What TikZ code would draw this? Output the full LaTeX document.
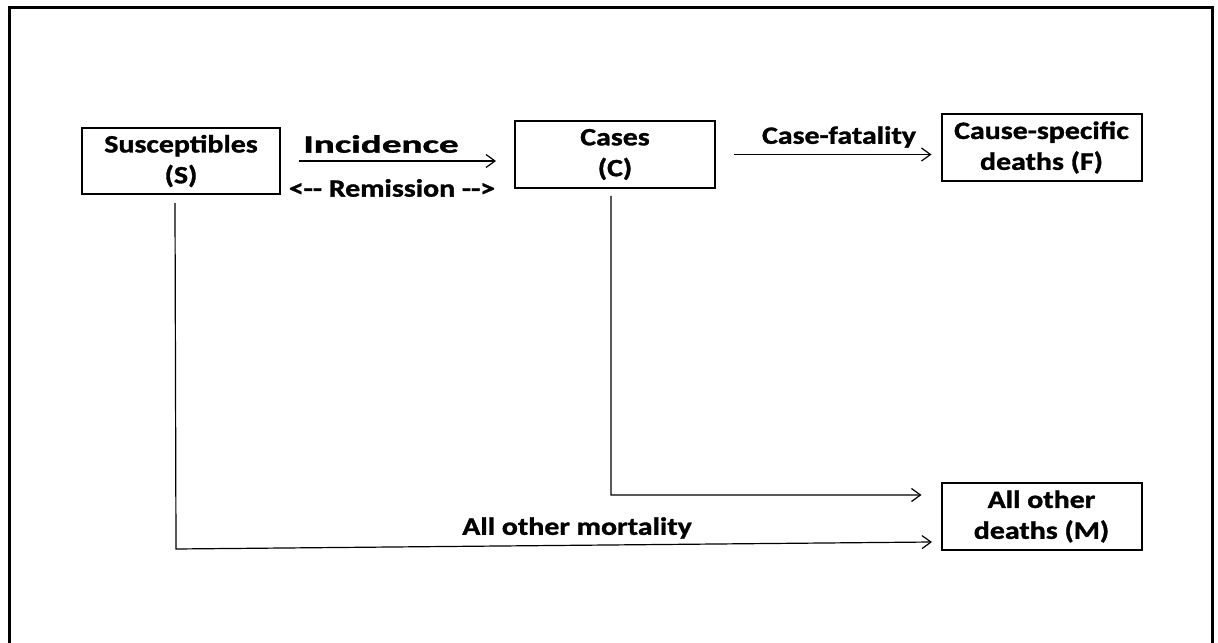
\documentclass[tikz,border=0pt]{standalone}
\usepackage{fontspec}
\setmainfont[FakeStretch=1.2]{Carlito}[BoldFeatures={FakeBold=1.3}]
\usetikzlibrary{arrows.meta}

\tikzset{
  compartment/.style={draw, line width=2bp, minimum width=200bp, minimum height=67bp,
    inner sep=0pt, align=center, font=\bfseries\fontsize{25}{31}\selectfont},
  flowlabel/.style={inner sep=0pt, font=\bfseries\fontsize{25}{29}\selectfont},
  flow/.style={line width=1.2bp, -{Straight Barb[length=9bp, width=13bp]}},
}

\begin{document}
\begin{tikzpicture}[x=1bp, y=1bp]
        \useasboundingbox (0,0) rectangle (1218,-643);
        % frame, open at the bottom
        \draw[line width=3bp] (9,-660) -- (9,-8) -- (1212,-8) -- (1212,-660);

        \node[compartment, minimum width=198bp, minimum height=66bp] (S) at (181,-161) {Susceptibles\\(S)};
        \node[compartment] (C) at (615,-154.5) {Cases\\(C)};
        \node[compartment] (F) at (1041.5,-147.5) {Cause-specific\\deaths (F)};
        \node[compartment] (M) at (1041.5,-516.5) {All other\\deaths (M)};

        \coordinate (Sbend) at (176,-549);
        \coordinate (Cbend) at (611,-495);
        \coordinate (Mend) at (932,-542);

        \draw[flow] ([xshift=18bp]S.east) -- ([xshift=-18bp]S.east -| C.west);
        \draw[flow] ([xshift=18bp]C.east) -- ([xshift=-9bp]C.east -| F.west);
        \draw[flow] ([shift={(-4bp,-7bp)}]C.south) -- (Cbend) -- ([xshift=-19bp]Cbend -| M.west);
        \draw[flow] ([shift={(-6bp,-8bp)}]S.south) -- (Sbend) -- (Mend);

        \node[flowlabel] (inc) at (381,-144) {\scalebox{1.31}[1]{Incidence}};
        \node[flowlabel] (rem) at (392,-188) {<-{}- Remission -{}->};
        \node[flowlabel] (fat) at (839,-137) {Case-fatality};
        \node[flowlabel] (mort) at (577,-528) {All other mortality};

\end{tikzpicture}
\end{document}
